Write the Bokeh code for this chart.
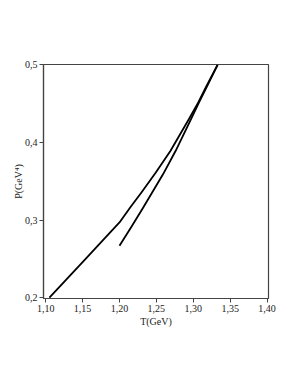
from bokeh.plotting import figure
from bokeh.embed import file_html
from bokeh.resources import INLINE
from bokeh.models import FixedTicker

# Data
t1 = [1.105, 1.150, 1.200, 1.215, 1.230, 1.249, 1.269, 1.294, 1.307, 1.318, 1.333]
p1 = [0.200, 0.246, 0.297, 0.317, 0.336, 0.361, 0.389, 0.430, 0.452, 0.473, 0.500]

t2 = [1.200, 1.216, 1.232, 1.259, 1.276, 1.297, 1.308, 1.319, 1.333]
p2 = [0.267, 0.291, 0.316, 0.359, 0.389, 0.430, 0.452, 0.473, 0.500]

x_ticks = [1.10, 1.15, 1.20, 1.25, 1.30, 1.35, 1.40]
x_labels = ["1,10", "1,15", "1,20", "1,25", "1,30", "1,35", "1,40"]
y_ticks = [0.2, 0.3, 0.4, 0.5]
y_labels = ["0,2", "0,3", "0,4", "0,5"]

FONT = "Liberation Serif"

p = figure(width=280, height=366, output_backend="svg", toolbar_location=None,
           x_range=(1.097, 1.402), y_range=(0.199, 0.5005),
           min_border_left=43, min_border_top=64, min_border_right=12, min_border_bottom=68)

p.line(t1, p1, line_color="black", line_width=1.8, line_join="round")
p.line(t2, p2, line_color="black", line_width=1.8, line_join="round")

p.grid.visible = False
p.outline_line_color = "#444444"
p.outline_line_width = 1.2

for ax in (p.xaxis[0], p.yaxis[0]):
    ax.axis_line_color = "#444444"
    ax.axis_line_width = 1.2
    ax.major_tick_line_color = "#444444"
    ax.major_tick_in = 0
    ax.major_tick_out = 4
    ax.minor_tick_line_color = None
    ax.major_label_text_font = FONT
    ax.major_label_text_font_size = "10px"
    ax.major_label_text_color = "#222222"
    ax.axis_label_text_font = FONT
    ax.axis_label_text_font_size = "10px"
    ax.axis_label_text_font_style = "normal"
    ax.axis_label_text_color = "#222222"
    ax.major_label_standoff = 2

p.xaxis[0].ticker = FixedTicker(ticks=x_ticks)
p.xaxis[0].major_label_overrides = dict(zip(x_ticks, x_labels))
p.yaxis[0].ticker = FixedTicker(ticks=y_ticks)
p.yaxis[0].major_label_overrides = dict(zip(y_ticks, y_labels))
p.xaxis[0].axis_label = "T(GeV)"
p.yaxis[0].axis_label = "P(GeV\u2074)"
p.xaxis[0].axis_label_standoff = 1
p.yaxis[0].axis_label_standoff = -2

open("out.html", "w").write(file_html(p, INLINE))
